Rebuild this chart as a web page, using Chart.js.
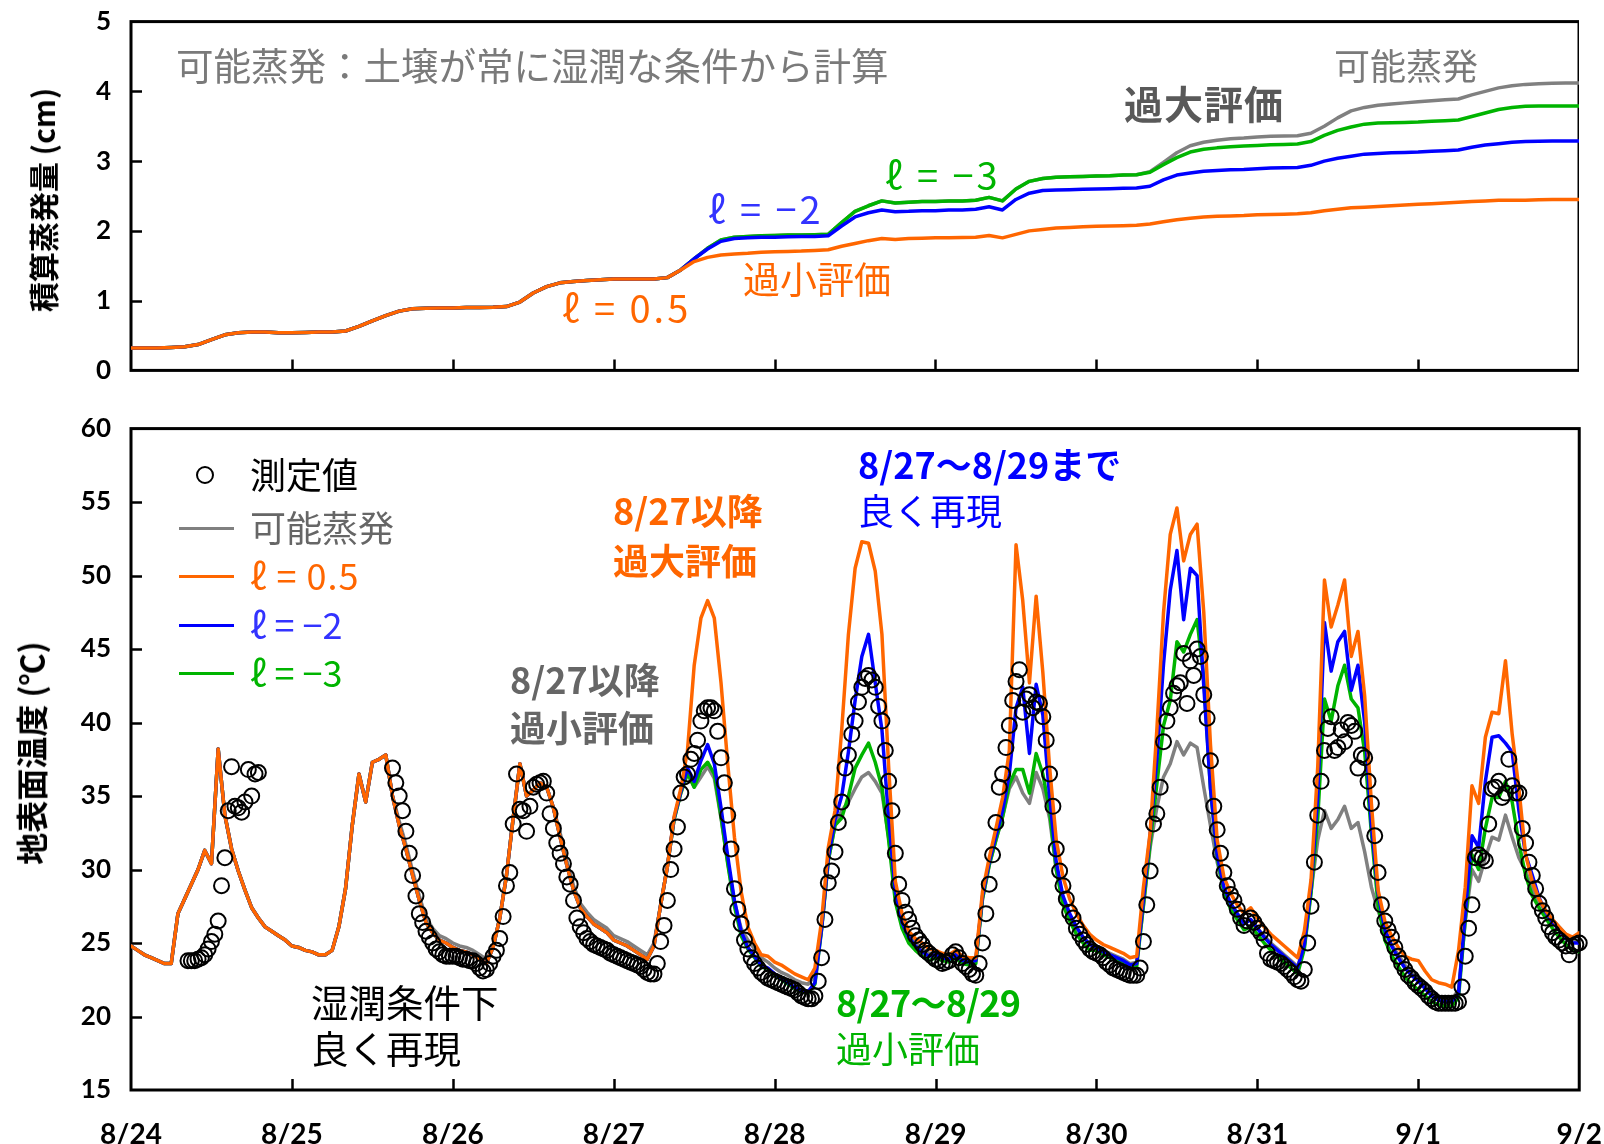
<!DOCTYPE html>
<html lang="ja">
<head>
<meta charset="utf-8">
<title>積算蒸発量と地表面温度</title>
<script src="https://cdn.jsdelivr.net/npm/chart.js@4.4.0/dist/chart.umd.min.js"></script>
<style>
  html, body { margin: 0; padding: 0; background: #fff; }
  #wrap { position: relative; width: 1604px; height: 1144px; overflow: hidden; background: #fff; }
  canvas { position: absolute; left: 0; top: 0; }
  .txt { position: absolute; font-family: "Noto Sans CJK JP", "Noto Sans", sans-serif; line-height: 1; white-space: nowrap; }
  .b { font-weight: 700; }
  .rot { position: absolute; font-family: "Noto Sans CJK JP", "Noto Sans", sans-serif; font-weight: 700; line-height: 1;
         white-space: nowrap; transform: translate(-50%, -50%) rotate(-90deg); color: #000; }
  .legline { position: absolute; height: 3px; }
  .legcirc { position: absolute; width: 18px; height: 18px; border: 2px solid #000; border-radius: 50%; box-sizing: border-box; }
</style>
</head>
<body>
<div id="wrap">
  <canvas id="topChart" width="1604" height="400"></canvas>
  <canvas id="botChart" width="1604" height="749"></canvas>
</div>
<script>
// ---------------------------------------------------------------
// Time axis: hours counted from 8/24 0:00, one tick per day
// ---------------------------------------------------------------
const dayLabels = ['8/24', '8/25', '8/26', '8/27', '8/28', '8/29', '8/30', '8/31', '9/1', '9/2'];

// ---------------------------------------------------------------
// Cumulative evaporation (cm), every 2 hours from 8/24 0:00
// ---------------------------------------------------------------
const evapStepH = 2;
const evapOrange = [
  0.32,0.32,0.32,0.33,0.34,0.37,0.44,0.51,0.54,0.55,0.55,
  0.54,0.54,0.545,0.55,0.55,0.565,0.63,0.71,0.785,0.85,
  0.885,0.89,0.895,0.895,0.90,0.90,0.905,0.915,0.98,1.11,
  1.20,1.255,1.275,1.29,1.30,1.31,1.31,1.31,1.31,1.33,
  1.44,1.56,1.62,1.655,1.67,1.68,1.695,1.70,1.705,1.71,
  1.72,1.73,1.78,1.82,1.86,1.89,1.875,1.89,1.895,1.90,
  1.90,1.905,1.91,1.935,1.90,1.95,2.00,2.02,2.04,2.05,
  2.06,2.065,2.07,2.075,2.08,2.10,2.13,2.16,2.18,2.20,
  2.21,2.215,2.22,2.23,2.235,2.24,2.245,2.26,2.29,2.31,
  2.33,2.34,2.35,2.36,2.37,2.38,2.39,2.40,2.41,2.42,
  2.43,2.44,2.44,2.44,2.445,2.45,2.45,2.45
];
const evapBlue = [
  0.32,0.32,0.32,0.33,0.34,0.37,0.44,0.51,0.54,0.55,0.55,
  0.54,0.54,0.545,0.55,0.55,0.565,0.63,0.71,0.785,0.85,
  0.885,0.89,0.895,0.895,0.90,0.90,0.905,0.915,0.98,1.11,
  1.20,1.255,1.275,1.29,1.30,1.31,1.31,1.31,1.31,1.33,
  1.44,1.60,1.74,1.85,1.89,1.90,1.91,1.91,1.915,1.92,
  1.92,1.93,2.07,2.20,2.26,2.30,2.275,2.28,2.29,2.29,
  2.30,2.30,2.31,2.345,2.30,2.45,2.54,2.58,2.585,2.59,
  2.595,2.60,2.605,2.61,2.615,2.64,2.73,2.80,2.83,2.855,
  2.865,2.875,2.88,2.89,2.90,2.905,2.91,2.94,3.00,3.04,
  3.07,3.10,3.11,3.12,3.125,3.13,3.14,3.15,3.16,3.20,
  3.23,3.25,3.27,3.28,3.285,3.29,3.29,3.29
];
const evapGreen = [
  0.32,0.32,0.32,0.33,0.34,0.37,0.44,0.51,0.54,0.55,0.55,
  0.54,0.54,0.545,0.55,0.55,0.565,0.63,0.71,0.785,0.85,
  0.885,0.89,0.895,0.895,0.90,0.90,0.905,0.915,0.98,1.11,
  1.20,1.255,1.275,1.29,1.30,1.31,1.31,1.31,1.31,1.33,
  1.44,1.60,1.75,1.87,1.91,1.92,1.93,1.935,1.94,1.94,
  1.945,1.95,2.12,2.28,2.36,2.43,2.40,2.41,2.42,2.42,
  2.43,2.43,2.44,2.48,2.43,2.60,2.71,2.75,2.77,2.775,
  2.78,2.785,2.79,2.80,2.805,2.84,2.95,3.05,3.13,3.17,
  3.19,3.205,3.215,3.225,3.235,3.24,3.245,3.28,3.37,3.44,
  3.49,3.53,3.545,3.55,3.555,3.56,3.57,3.58,3.59,3.64,
  3.69,3.74,3.77,3.785,3.79,3.79,3.79,3.79
];
const evapGray = [
  0.32,0.32,0.32,0.33,0.34,0.37,0.44,0.51,0.54,0.55,0.55,
  0.54,0.54,0.545,0.55,0.55,0.565,0.63,0.71,0.785,0.85,
  0.885,0.89,0.895,0.895,0.90,0.90,0.905,0.915,0.98,1.11,
  1.20,1.255,1.275,1.29,1.30,1.31,1.31,1.31,1.31,1.33,
  1.44,1.60,1.75,1.87,1.91,1.92,1.93,1.935,1.94,1.94,
  1.945,1.95,2.12,2.28,2.36,2.43,2.40,2.41,2.42,2.42,
  2.43,2.43,2.44,2.48,2.43,2.60,2.71,2.75,2.77,2.775,
  2.78,2.785,2.79,2.80,2.805,2.85,2.98,3.12,3.22,3.27,
  3.30,3.32,3.33,3.345,3.355,3.36,3.365,3.40,3.50,3.62,
  3.72,3.77,3.80,3.82,3.835,3.85,3.865,3.88,3.89,3.95,
  4.00,4.05,4.08,4.10,4.11,4.115,4.12,4.12
];

// ---------------------------------------------------------------
// Surface temperature (°C), hourly from 8/24 0:00 to 9/2 0:00
// ---------------------------------------------------------------
const tempOrange = [
  24.8,24.5,24.2,24.0,23.8,23.6,23.6,27.0,28.0,29.0,30.0,31.3,30.4,38.2,33.7,31.4,29.9,28.6,27.4,26.7,26.1,25.8,25.5,25.2,
  24.8,24.7,24.5,24.4,24.2,24.2,24.5,26.1,28.7,33.0,36.5,34.6,37.3,37.5,37.8,35.0,33.0,31.4,29.6,27.9,26.4,25.7,25.2,25.0,
  24.7,24.5,24.4,24.2,23.9,23.6,24.7,26.7,29.6,33.5,37.2,35.0,35.4,35.9,35.6,34.2,32.2,30.3,28.6,27.4,26.8,26.3,26.0,25.7,
  25.2,25.0,24.8,24.5,24.2,23.9,24.8,27.6,30.2,33.6,35.5,38.1,43.9,47.1,48.3,47.1,42.7,37.2,32.2,28.5,26.1,25.0,24.2,24.1,
  23.7,23.5,23.2,22.9,22.7,22.5,23.3,26.5,31.5,34.0,39.5,46.0,50.5,52.3,52.2,50.3,46.0,37.0,29.2,27.0,25.8,25.3,25.0,24.6,
  24.5,24.3,24.2,24.5,24.1,24.0,24.0,28.5,30.8,32.8,34.9,38.1,52.1,48.3,42.7,48.6,43.4,37.0,32.0,29.5,28.0,27.0,26.2,25.6,
  25.2,24.9,24.7,24.5,24.3,24.0,24.1,28.8,32.5,39.5,47.5,52.8,54.6,51.0,52.8,53.5,47.5,38.5,32.0,29.5,28.4,27.6,27.0,27.4,
  26.7,26.1,25.6,25.2,24.8,24.4,24.0,25.8,29.3,37.0,49.7,46.5,48.0,49.7,44.5,46.2,41.8,34.5,28.6,26.5,25.5,24.7,24.1,23.9,
  23.8,23.1,22.5,22.3,22.2,22.0,24.5,28.8,35.7,34.5,39.0,40.7,40.6,44.2,39.2,35.5,31.0,29.2,28.0,27.2,26.6,26.1,25.6,25.4,
  25.7
];
const tempGray = [
  24.8,24.5,24.2,24.0,23.8,23.6,23.6,27.0,28.0,29.0,30.0,31.3,30.4,38.2,33.7,31.4,29.9,28.6,27.4,26.7,26.1,25.8,25.5,25.2,
  24.8,24.7,24.5,24.4,24.2,24.2,24.5,26.1,28.7,33.0,36.5,34.6,37.3,37.5,37.8,35.0,33.3,31.7,29.9,28.2,26.7,26.0,25.5,25.3,
  25.0,24.8,24.7,24.5,24.2,23.9,24.7,26.7,29.6,33.5,37.2,35.0,35.4,35.9,35.6,34.2,32.5,30.6,28.9,27.7,27.1,26.6,26.3,26.0,
  25.5,25.3,25.1,24.8,24.5,24.2,25.0,27.6,30.2,33.4,35.2,36.5,35.6,36.3,37.0,36.2,33.5,30.5,27.8,26.0,25.2,24.6,24.0,23.7,
  23.3,23.0,22.8,22.5,22.3,22.2,22.8,26.0,30.6,33.0,34.0,34.6,35.5,36.3,36.6,36.0,35.2,32.2,28.3,26.6,25.6,25.0,24.6,24.3,
  24.3,24.1,24.0,24.3,23.9,23.8,23.9,28.0,30.3,32.0,33.6,35.5,36.3,35.2,34.5,36.6,35.5,33.5,30.0,27.8,26.9,26.0,25.4,24.9,
  24.8,24.5,24.3,24.1,23.9,23.6,23.7,27.5,31.5,34.2,36.3,37.2,38.7,37.8,38.6,38.3,35.6,33.0,30.5,28.6,27.7,27.0,26.4,26.6,
  26.0,25.5,25.0,24.6,24.2,23.8,23.4,24.8,28.5,32.0,34.0,32.8,33.4,34.3,32.8,33.2,31.2,28.8,27.2,25.9,24.9,24.2,23.5,23.0,
  22.6,22.1,21.6,21.3,21.2,21.2,21.8,26.5,30.0,29.2,30.8,32.2,32.0,33.7,32.2,30.8,29.9,28.7,27.8,27.2,26.6,26.1,25.6,25.2,
  25.0
];
const tempBlue = [
  24.8,24.5,24.2,24.0,23.8,23.6,23.6,27.0,28.0,29.0,30.0,31.3,30.4,38.2,33.7,31.4,29.9,28.6,27.4,26.7,26.1,25.8,25.5,25.2,
  24.8,24.7,24.5,24.4,24.2,24.2,24.5,26.1,28.7,33.0,36.5,34.6,37.3,37.5,37.8,35.0,33.0,31.4,29.6,27.9,26.4,25.7,25.2,25.0,
  24.7,24.5,24.4,24.2,23.9,23.6,24.7,26.7,29.6,33.5,37.2,35.0,35.4,35.9,35.6,34.2,32.2,30.3,28.6,27.4,26.8,26.3,26.0,25.7,
  25.2,25.0,24.8,24.5,24.2,23.9,24.8,27.6,30.2,33.5,35.3,36.9,36.0,37.4,38.5,37.2,34.2,30.9,27.9,25.8,24.7,24.1,23.5,23.3,
  22.9,22.6,22.3,22.0,21.8,21.7,22.3,26.0,30.8,33.4,35.0,38.0,41.5,44.5,46.0,42.7,39.5,33.5,28.5,26.4,25.4,24.8,24.4,24.1,
  24.2,24.0,23.9,24.2,23.8,23.7,23.8,28.2,30.5,32.3,34.0,36.5,41.0,42.4,37.9,42.6,40.5,35.0,30.5,28.2,27.0,26.1,25.4,24.9,
  24.7,24.4,24.2,24.0,23.8,23.5,23.6,28.0,32.4,37.5,44.0,49.0,51.7,47.0,50.5,50.0,42.5,35.5,31.0,28.8,27.7,27.0,26.3,26.6,
  26.0,25.4,24.9,24.5,24.1,23.7,23.3,24.9,28.8,35.0,46.8,43.5,45.5,46.2,42.2,43.9,40.0,33.0,28.4,25.9,24.8,24.0,23.3,22.8,
  22.4,21.9,21.4,21.1,21.0,21.0,21.6,27.0,32.3,31.5,36.0,39.0,39.1,38.6,38.0,34.0,31.0,29.6,28.1,27.1,26.4,25.9,25.3,25.0,
  25.0
];
const tempGreen = [
  24.8,24.5,24.2,24.0,23.8,23.6,23.6,27.0,28.0,29.0,30.0,31.3,30.4,38.2,33.7,31.4,29.9,28.6,27.4,26.7,26.1,25.8,25.5,25.2,
  24.8,24.7,24.5,24.4,24.2,24.2,24.5,26.1,28.7,33.0,36.5,34.6,37.3,37.5,37.8,35.0,33.0,31.4,29.6,27.9,26.4,25.7,25.2,25.0,
  24.7,24.5,24.4,24.2,23.9,23.6,24.7,26.7,29.6,33.5,37.2,35.0,35.4,35.9,35.6,34.2,32.2,30.3,28.6,27.4,26.8,26.3,26.0,25.7,
  25.2,25.0,24.8,24.5,24.2,23.9,24.8,27.6,30.2,33.4,35.2,36.6,35.6,36.8,37.3,36.5,33.6,30.4,27.5,25.5,24.6,24.0,23.4,23.2,
  22.8,22.5,22.2,21.9,21.7,21.6,22.2,25.9,30.6,33.0,33.5,35.0,36.9,37.8,38.6,37.3,35.6,32.0,27.8,26.0,25.0,24.5,24.1,23.8,
  24.0,23.8,23.7,24.0,23.6,23.5,23.6,28.0,30.3,32.0,33.6,35.8,36.8,36.8,35.2,37.9,36.5,34.0,30.0,27.6,26.5,25.6,25.0,24.5,
  24.5,24.2,24.0,23.8,23.6,23.3,23.4,27.6,31.8,35.8,39.8,41.5,45.5,44.8,46.0,47.0,43.0,35.5,30.8,28.5,27.3,26.6,25.9,26.1,
  25.6,25.0,24.5,24.1,23.7,23.3,22.9,24.6,28.4,33.5,41.6,40.1,42.5,43.9,41.6,41.0,38.0,32.5,27.6,25.2,24.2,23.4,22.7,22.2,
  21.8,21.4,21.0,20.8,20.7,20.7,21.3,26.6,31.0,30.0,32.8,34.9,34.9,36.0,34.6,31.8,29.6,28.2,27.4,26.7,26.0,25.4,24.9,24.5,
  24.4
];

// Measured surface temperature (°C), every 30 min; two logged periods
const measuredStepH = 0.5;
const measuredStartA = 8.5;    // 8/24 8:30
const measuredA = [
  23.8,23.8,23.8,23.9,24.0,24.2,24.6,25.1,25.6,26.5,28.9,30.8,34.0,37.0,34.3,34.2,33.9,34.6,36.8,35.0,36.5,36.6
];
const measuredStartB = 39;     // 8/25 15:00
const measuredB = [
  36.9,35.9,35.0,34.0,32.6,31.1,29.6,28.2,27.0,26.4,25.8,25.4,25.0,24.6,24.4,24.2,24.1,24.1,
  24.1,24.1,24.0,23.9,23.9,23.8,23.8,23.6,23.3,23.1,23.2,23.6,24.1,24.5,25.3,26.8,28.9,29.8,33.1,36.5,34.1,34.0,
  32.6,34.3,35.6,35.8,35.9,36.0,35.2,33.8,32.8,31.8,31.1,30.4,29.5,29.0,27.9,26.7,26.1,25.7,25.3,25.1,24.9,24.8,24.7,24.6,24.5,24.3,
  24.2,24.1,24.0,23.9,23.8,23.7,23.6,23.5,23.4,23.2,23.0,22.9,22.9,23.6,25.1,26.2,27.9,30.0,31.4,32.9,35.2,36.3,36.5,37.5,
  37.9,38.8,40.1,40.8,41.0,41.0,40.8,39.4,37.6,35.9,33.7,31.4,28.7,27.3,26.3,25.2,24.6,24.0,23.6,23.3,23.0,22.8,22.6,22.5,
  22.4,22.3,22.2,22.1,22.0,21.9,21.8,21.6,21.4,21.3,21.2,21.2,21.4,22.4,24.0,26.6,29.1,29.9,31.2,33.2,34.6,36.9,37.8,39.2,
  40.1,41.4,42.4,43.0,43.2,42.9,42.4,41.1,40.1,38.1,36.0,34.0,31.1,29.0,27.9,27.1,26.6,26.0,25.5,25.2,24.9,24.5,24.3,24.1,
  23.9,23.8,23.6,23.7,23.8,24.2,24.4,24.0,23.6,23.4,23.2,22.9,22.8,23.6,25.0,27.0,29.0,31.0,33.2,35.6,36.5,38.3,39.8,41.5,
  42.8,43.6,40.7,41.6,41.9,41.0,41.4,41.3,40.4,38.8,36.5,34.3,31.4,29.9,28.9,28.0,27.1,26.7,26.0,25.6,25.2,24.9,24.6,24.4,
  24.3,24.2,24.0,23.7,23.5,23.3,23.2,23.1,23.0,22.9,22.8,22.8,22.8,23.3,25.1,27.6,29.9,33.1,33.8,35.6,38.7,40.1,41.0,42.0,
  42.5,42.7,44.7,41.3,44.2,43.2,45.0,44.5,41.9,40.3,37.4,34.3,32.7,31.1,29.8,28.9,28.3,27.9,27.3,26.7,26.2,26.5,26.7,26.4,
  26.0,25.7,25.2,24.3,23.9,23.8,23.7,23.6,23.4,23.2,23.0,22.7,22.5,22.4,23.2,25.0,27.5,30.5,33.7,36.0,38.1,39.6,40.4,38.1,
  38.3,39.5,38.7,40.0,39.8,39.4,36.9,37.8,37.6,36.0,34.5,32.3,29.8,27.6,26.5,25.9,25.4,24.7,24.1,23.6,23.2,22.8,22.6,22.3,
  22.1,21.9,21.7,21.4,21.2,21.0,20.9,20.9,20.9,20.9,20.9,20.9,21.0,22.0,24.1,26.0,27.6,30.8,31.0,30.8,30.6,33.1,35.5,35.6,
  36.0,34.9,35.2,37.5,35.7,35.2,35.2,32.8,31.8,30.5,29.6,28.7,27.7,27.2,26.7,26.1,25.7,25.4,25.2,25.0,24.8,24.2,24.8,24.9,
  25.0
];

// ---------------------------------------------------------------
// Colours
// ---------------------------------------------------------------
const C_ORANGE = '#FF6600';
const C_BLUE = '#0000FF';
const C_GREEN = '#00B400';
const C_GRAY = '#808080';

const seriesFrom = (arr, step, start) => arr.map((v, i) => ({ x: start + i * step, y: v }));

// Frame around the plot area plus inward tick marks
const framePlugin = {
  id: 'frameTicks',
  beforeDatasetsDraw(chart) {
    const { ctx, chartArea: a, scales } = chart;
    ctx.save();
    ctx.strokeStyle = '#000';
    ctx.lineWidth = 2.5;
    ctx.beginPath();
    const xs = scales.x, ys = scales.y;
    const xStep = xs.options.ticks.stepSize, yStep = ys.options.ticks.stepSize;
    for (let v = xs.min + xStep; v < xs.max - 1e-9; v += xStep) {
      const px = Math.round(xs.getPixelForValue(v)) + 0.5;
      ctx.moveTo(px, a.bottom);
      ctx.lineTo(px, a.bottom - 11);
    }
    for (let v = ys.min + yStep; v < ys.max - 1e-9; v += yStep) {
      const py = Math.round(ys.getPixelForValue(v)) + 0.5;
      ctx.moveTo(a.left, py);
      ctx.lineTo(a.left + 11, py);
    }
    ctx.stroke();
    ctx.lineWidth = 3;
    ctx.strokeRect(a.left, a.top, a.right - a.left, a.bottom - a.top);
    ctx.restore();
  }
};

// Build a chart, then size and shift its canvas so the plot area fills the wanted page box
function buildPlaced(canvas, makeConfig, box) {
  let w = canvas.width, h = canvas.height, chart = null;
  for (let k = 0; k < 4; k++) {
    canvas.width = w; canvas.height = h;
    canvas.style.width = w + 'px'; canvas.style.height = h + 'px';
    chart = new Chart(canvas, makeConfig());
    const a = chart.chartArea;
    const dw = (box.right - box.left) - (a.right - a.left);
    const dh = (box.bottom - box.top) - (a.bottom - a.top);
    if (Math.abs(dw) < 0.5 && Math.abs(dh) < 0.5) break;
    if (k === 3) break;
    chart.destroy();
    w = Math.round(w + dw); h = Math.round(h + dh);
  }
  const a = chart.chartArea;
  canvas.style.left = Math.round(box.left - a.left) + 'px';
  canvas.style.top = Math.round(box.top - a.top) + 'px';
  return chart;
}

const tickFont = { family: 'Lato, "Liberation Sans", sans-serif', weight: 'bold' };

function lineSet(data, color, step) {
  return {
    type: 'line',
    data: seriesFrom(data, step, 0),
    borderColor: color,
    backgroundColor: color,
    borderWidth: 3.5,
    pointRadius: 0,
    tension: 0,
    fill: false,
    borderJoinStyle: 'round',
    borderCapStyle: 'round'
  };
}

const baseOptions = () => ({
  responsive: false,
  maintainAspectRatio: false,
  animation: false,
  devicePixelRatio: 1,
  events: [],
  layout: { padding: 0 },
  plugins: { legend: { display: false }, tooltip: { enabled: false } }
});

// ---------------- upper panel: cumulative evaporation ----------------
buildPlaced(document.getElementById('topChart'), () => ({
  type: 'line',
  data: {
    datasets: [
      lineSet(evapOrange, C_ORANGE, evapStepH),
      lineSet(evapBlue, C_BLUE, evapStepH),
      lineSet(evapGreen, C_GREEN, evapStepH),
      lineSet(evapGray, C_GRAY, evapStepH)
    ]
  },
  options: Object.assign(baseOptions(), {
    scales: {
      x: {
        type: 'linear', min: 0, max: 216,
        grid: { display: false, drawTicks: false },
        border: { display: false },
        ticks: { display: false, stepSize: 24 },
        afterFit: (s) => { s.height = 20; }
      },
      y: {
        type: 'linear', min: 0, max: 5,
        grid: { display: false, drawTicks: false },
        border: { display: false },
        ticks: { stepSize: 1, padding: 20, color: '#000', font: { ...tickFont, size: 26 } },
        afterFit: (s) => { s.width = 131; }
      }
    }
  }),
  plugins: [framePlugin]
}), { left: 131, top: 22, right: 1579, bottom: 371 });

// ---------------- lower panel: surface temperature ----------------
buildPlaced(document.getElementById('botChart'), () => ({
  type: 'line',
  data: {
    datasets: [
      {
        type: 'line',
        data: seriesFrom(measuredA, measuredStepH, measuredStartA).concat(
              [{ x: measuredStartA + measuredA.length * measuredStepH, y: null }],
              seriesFrom(measuredB, measuredStepH, measuredStartB)),
        showLine: false,
        pointStyle: 'circle',
        pointRadius: 7.5,
        pointBorderWidth: 2,
        pointBorderColor: '#000',
        pointBackgroundColor: 'rgba(0,0,0,0)',
        clip: false
      },
      lineSet(tempOrange, C_ORANGE, 1),
      lineSet(tempBlue, C_BLUE, 1),
      lineSet(tempGreen, C_GREEN, 1),
      lineSet(tempGray, C_GRAY, 1)
    ]
  },
  options: Object.assign(baseOptions(), {
    spanGaps: false,
    scales: {
      x: {
        type: 'linear', min: 0, max: 216,
        grid: { display: false, drawTicks: false },
        border: { display: false },
        ticks: {
          stepSize: 24, padding: 28, color: '#000', maxRotation: 0, autoSkip: false,
          font: { ...tickFont, size: 28 },
          callback: (v) => dayLabels[Math.round(v / 24)]
        },
        afterFit: (s) => { s.height = 54; }
      },
      y: {
        type: 'linear', min: 15, max: 60,
        grid: { display: false, drawTicks: false },
        border: { display: false },
        ticks: { stepSize: 5, padding: 20, color: '#000', font: { ...tickFont, size: 26 } },
        afterFit: (s) => { s.width = 131; }
      }
    }
  }),
  plugins: [framePlugin]
}), { left: 131, top: 429, right: 1579, bottom: 1090 });

// ---------------------------------------------------------------
// Labels, annotations and legend
// ---------------------------------------------------------------
const wrap = document.getElementById('wrap');
function addText(text, left, cy, size, color, bold, spacing) {
  const d = document.createElement('div');
  d.className = 'txt' + (bold ? ' b' : '');
  d.textContent = text;
  d.style.left = left + 'px';
  d.style.top = (cy - size * 0.56) + 'px';
  d.style.fontSize = size + 'px';
  d.style.color = color;
  if (spacing) d.style.letterSpacing = spacing + 'px';
  wrap.appendChild(d);
}
function addRot(text, cx, cy, size) {
  const d = document.createElement('div');
  d.className = 'rot';
  d.textContent = text;
  d.style.left = cx + 'px';
  d.style.top = cy + 'px';
  d.style.fontSize = size + 'px';
  wrap.appendChild(d);
}

// axis titles
addRot('積算蒸発量 (cm)', 42, 200, 30);
addRot('地表面温度 (℃)', 30, 753, 32);

// upper panel notes
addText('可能蒸発：土壌が常に湿潤な条件から計算', 176, 66, 37.5, '#7a7a7a', false);
addText('可能蒸発', 1334, 66, 36, '#7a7a7a', false);
addText('過大評価', 1124, 105, 39, '#595959', true, 1);
addText('ℓ = −3', 885, 176, 38, C_GREEN, false, 3);
addText('ℓ = −2', 708, 210, 38, '#3333FF', false, 3);
addText('過小評価', 743, 281, 37, C_ORANGE, false);
addText('ℓ = 0.5', 562, 309, 38, C_ORANGE, false, 3);

// lower panel notes
addText('8/27以降', 613, 511, 36, C_ORANGE, true);
addText('過大評価', 613, 561, 36, C_ORANGE, true);
addText('8/27以降', 510, 680, 36, '#666666', true);
addText('過小評価', 510, 728, 36, '#666666', true);
addText('8/27～8/29まで', 858, 465, 36, C_BLUE, true);
addText('良く再現', 858, 511, 36, C_BLUE, false);
addText('8/27～8/29', 836, 1003, 36, C_GREEN, true, -0.8);
addText('過小評価', 836, 1049, 36, C_GREEN, false);
addText('湿潤条件下', 311, 1003, 37.5, '#000000', false);
addText('良く再現', 311, 1049, 37.5, '#000000', false);

// legend
const circ = document.createElement('div');
circ.className = 'legcirc';
circ.style.left = '196px';
circ.style.top = '466px';
wrap.appendChild(circ);
addText('測定値', 250, 475, 36, '#000000', false);
const legRows = [
  ['可能蒸発', C_GRAY, '#666666', 528, 0],
  ['ℓ = 0.5', C_ORANGE, C_ORANGE, 576, 1],
  ['ℓ = −2', C_BLUE, '#3333FF', 625, 0],
  ['ℓ = −3', C_GREEN, C_GREEN, 673, 0]
];
legRows.forEach(([label, lineColor, textColor, cy, sp]) => {
  const l = document.createElement('div');
  l.className = 'legline';
  l.style.left = '179px';
  l.style.width = '55px';
  l.style.top = (cy - 1.5) + 'px';
  l.style.background = lineColor;
  wrap.appendChild(l);
  addText(label, 250, cy, 36, textColor, false, sp);
});
</script>
</body>
</html>
